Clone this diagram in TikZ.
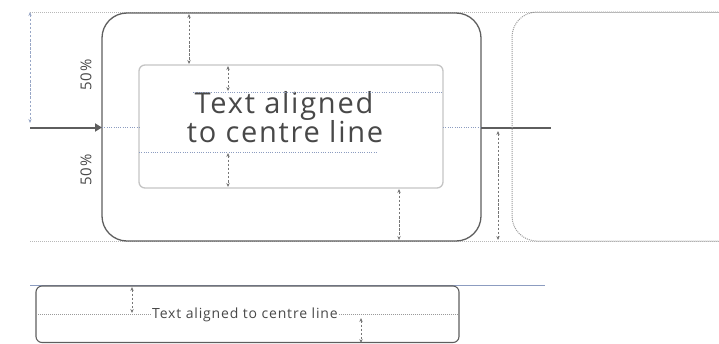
\documentclass[tikz,border=0pt]{standalone}
\usepackage{fontspec}
\setmainfont{Open Sans}[LetterSpace=6]
\usetikzlibrary{arrows.meta}
\definecolor{dk}{HTML}{5E5E5E}
\definecolor{txt}{HTML}{484848}
\definecolor{guide}{HTML}{8C9CC0}
\definecolor{lg}{HTML}{C4C4C4}
\definecolor{dotg}{HTML}{9A9A9A}
\tikzset{
  guideline/.style={guide, line width=0.8pt, dash pattern=on 1pt off 1.3pt},
  greydot/.style={dotg, line width=1pt, dash pattern=on 1pt off 1pt},
  measure/.style={dk!85, line width=1pt, dash pattern=on 2.5pt off 1.6pt, {Stealth[length=4pt,width=3.4pt]}-{Stealth[length=4pt,width=3.4pt]}},
  pct/.style={font=\fontsize{15}{17}\selectfont, text=txt, rotate=90},
}
\begin{document}
\begin{tikzpicture}[x=1pt,y=-1pt]
\useasboundingbox (0,0) rectangle (719,343);
% guide lines top/bottom
\coordinate (tl) at (30,12); \coordinate (tr) at (719,12);
\coordinate (bl) at (30,241); \coordinate (br) at (719,241);
\draw[greydot, dotg!70] (tl) -- (tr);
\draw[greydot, dotg!70] (bl) -- (br);
% left vertical measure
\coordinate (lv1) at (30,12); \coordinate (lv2) at (30,123);
\draw[guide!90, line width=0.8pt, dash pattern=on 2.5pt off 1.6pt, {Stealth[length=4pt,width=3.2pt]}-{Stealth[length=4pt,width=3.2pt]}] (lv1) -- (lv2);
% outer box
\draw[dk, line width=1.3pt, rounded corners=25pt] (102,13) rectangle (481,241);
\coordinate (outL) at (102,127.5);
\coordinate (outR) at (481,127.5);
% input arrow
\coordinate (inA) at (30,127.5);
\draw[dk, line width=2pt, -{Triangle[length=7pt,width=8pt]}] (inA) -- (outL);
% output line
\coordinate (outE) at (551,127.5);
\draw[dk, line width=2pt] (outR) -- (outE);
% inner box
\draw[lg, line width=1.3pt, rounded corners=6pt] (139,65) rectangle (443,188);
\coordinate (inL) at (139,127.5);
\coordinate (inR) at (443,127.5);
\draw[guideline] (outL) -- (inL);
\draw[guideline] (inR) -- (outR);
% text
\node[text=txt, font=\fontsize{29}{32}\selectfont, inner sep=0pt, anchor=base] (main1) at (284,113) {Text aligned};
\node[text=txt, font=\fontsize{29}{32}\selectfont, inner sep=0pt, anchor=base] (main2) at (285,142) {to centre line};
% text guides
\coordinate (g1a) at (193,92); \coordinate (g1b) at (443,92);
\coordinate (g2a) at (139,152); \coordinate (g2b) at (377,152);
\draw[guideline] (g1a) -- (g1b);
\draw[guideline] (g2a) -- (g2b);
% measures
\coordinate (m1a) at (189,14); \coordinate (m1b) at (189,64);
\draw[measure] (m1a) -- (m1b);
\coordinate (m2a) at (228,66); \coordinate (m2b) at (228,91);
\draw[measure] (m2a) -- (m2b);
\coordinate (m3a) at (228,153); \coordinate (m3b) at (228,187);
\draw[measure] (m3a) -- (m3b);
\coordinate (m4a) at (399,189); \coordinate (m4b) at (399,240);
\draw[measure] (m4a) -- (m4b);
\coordinate (m5a) at (498,131); \coordinate (m5b) at (498,240);
\draw[measure] (m5a) -- (m5b);
% right dotted box
\draw[greydot, rounded corners=25pt] (740,12) -- (512,12) -- (512,241) -- (740,241);
% percentages
\node[pct] (p1) at (86,75) {50\%};
\node[pct] (p2) at (86,170) {50\%};
% bottom part
\coordinate (hb1) at (30,285); \coordinate (hb2) at (545,285);
\draw[guide, line width=1pt] (hb1) -- (hb2);
\draw[dk, line width=1.1pt, rounded corners=6pt] (36,286) rectangle (459,342.5);
\node[text=txt, font=\fontsize{14}{16}\selectfont, inner sep=1pt, anchor=base west] (small) at (151,318.5) {Text aligned to centre line};
\coordinate (sL) at (36,314); \coordinate (sR) at (459,314);
\draw[greydot, line width=0.7pt] (sL) -- (small.west |- sL);
\draw[greydot, line width=0.7pt] (small.east |- sR) -- (sR);
\coordinate (s1a) at (132,287); \coordinate (s1b) at (132,313);
\draw[measure, line width=0.8pt] (s1a) -- (s1b);
\coordinate (s2a) at (361,318); \coordinate (s2b) at (361,343);
\draw[measure, line width=0.8pt] (s2a) -- (s2b);
\end{tikzpicture}
\end{document}
